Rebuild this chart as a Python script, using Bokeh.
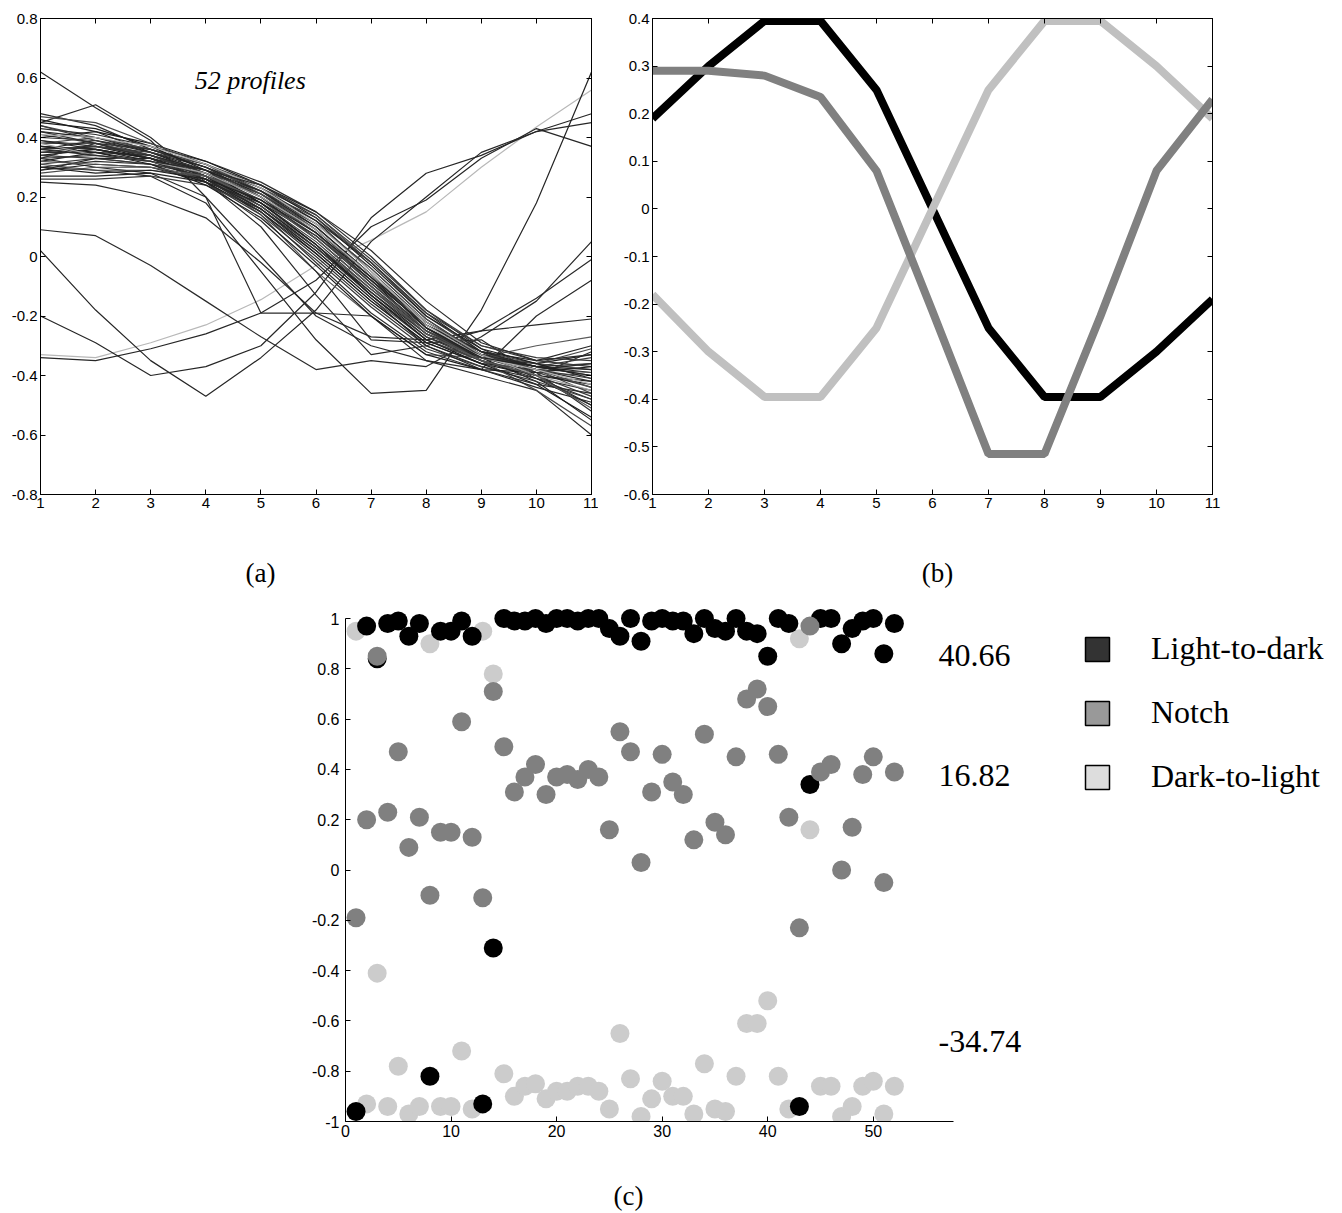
from bokeh.plotting import figure
from bokeh.models import (Range1d, FixedTicker, LinearAxis, CustomJSTickFormatter,
                          Label, Legend, LegendItem, ColumnDataSource)
from bokeh.layouts import column, row
from bokeh.embed import file_html
from bokeh.resources import INLINE

# ---------------- data ----------------
positions = list(range(1, 12))

# panel (a): 52 normalised grey-level profiles
profiles = [
    [-0.33, -0.34, -0.29, -0.23, -0.145, -0.03, 0.055, 0.15, 0.30, 0.435, 0.56],
    [-0.20, -0.29, -0.40, -0.37, -0.30, -0.12, 0.13, 0.28, 0.34, 0.42, 0.48],
    [0.02, -0.18, -0.35, -0.47, -0.34, -0.18, 0.05, 0.20, 0.35, 0.42, 0.45],
    [-0.34, -0.35, -0.31, -0.26, -0.19, -0.08, 0.10, 0.19, 0.33, 0.43, 0.37],
    [0.30, 0.29, 0.27, 0.18, -0.05, -0.28, -0.46, -0.45, -0.18, 0.18, 0.62],
    [0.36, 0.37, 0.34, 0.27, 0.14, -0.05, -0.20, -0.33, -0.34, -0.30, -0.27],
    [0.09, 0.07, -0.03, -0.15, -0.27, -0.38, -0.35, -0.37, -0.27, -0.15, 0.05],
    [0.25, 0.24, 0.20, 0.13, -0.02, -0.19, -0.27, -0.28, -0.25, -0.23, -0.21],
    [0.62, 0.50, 0.39, 0.20, 0.00, -0.20, -0.30, -0.35, -0.40, -0.45, -0.60],
    [0.45, 0.51, 0.40, 0.25, 0.10, -0.13, -0.33, -0.30, -0.25, -0.14, -0.01],
    [0.33, 0.30, 0.28, 0.20, -0.19, -0.19, -0.20, -0.35, -0.38, -0.20, -0.08],
    [0.37, 0.36, 0.33, 0.25, 0.12, -0.05, -0.28, -0.29, -0.28, -0.40, -0.32],
    [0.48, 0.44, 0.36, 0.30, 0.22, 0.12, -0.05, -0.22, -0.33, -0.40, -0.50],
    [0.46, 0.42, 0.35, 0.28, 0.20, 0.08, -0.08, -0.25, -0.34, -0.42, -0.55],
    [0.44, 0.40, 0.36, 0.31, 0.23, 0.14, -0.02, -0.20, -0.32, -0.38, -0.46],
    [0.42, 0.40, 0.35, 0.29, 0.21, 0.10, -0.06, -0.24, -0.35, -0.41, -0.48],
    [0.41, 0.38, 0.34, 0.28, 0.19, 0.06, -0.10, -0.26, -0.34, -0.39, -0.44],
    [0.40, 0.39, 0.36, 0.30, 0.22, 0.11, -0.04, -0.21, -0.33, -0.37, -0.40],
    [0.39, 0.37, 0.33, 0.27, 0.17, 0.03, -0.13, -0.28, -0.35, -0.40, -0.42],
    [0.38, 0.38, 0.34, 0.29, 0.20, 0.08, -0.08, -0.23, -0.32, -0.36, -0.38],
    [0.37, 0.36, 0.33, 0.27, 0.16, 0.01, -0.15, -0.29, -0.36, -0.38, -0.36],
    [0.36, 0.37, 0.34, 0.28, 0.18, 0.05, -0.11, -0.26, -0.34, -0.37, -0.34],
    [0.35, 0.35, 0.32, 0.26, 0.15, 0.00, -0.16, -0.30, -0.37, -0.41, -0.45],
    [0.34, 0.36, 0.33, 0.27, 0.17, 0.03, -0.12, -0.27, -0.34, -0.36, -0.33],
    [0.33, 0.34, 0.32, 0.26, 0.16, 0.02, -0.14, -0.28, -0.35, -0.39, -0.40],
    [0.32, 0.35, 0.34, 0.29, 0.21, 0.09, -0.07, -0.22, -0.32, -0.35, -0.30],
    [0.31, 0.33, 0.31, 0.25, 0.14, -0.01, -0.17, -0.31, -0.37, -0.42, -0.48],
    [0.30, 0.32, 0.31, 0.27, 0.18, 0.04, -0.12, -0.26, -0.33, -0.37, -0.36],
    [0.29, 0.31, 0.30, 0.25, 0.15, 0.01, -0.15, -0.29, -0.36, -0.40, -0.43],
    [0.28, 0.30, 0.30, 0.26, 0.17, 0.04, -0.11, -0.25, -0.33, -0.36, -0.31],
    [0.27, 0.27, 0.28, 0.25, 0.18, 0.07, -0.08, -0.23, -0.32, -0.37, -0.39],
    [0.26, 0.26, 0.27, 0.24, 0.16, 0.03, -0.13, -0.27, -0.35, -0.40, -0.47],
    [0.43, 0.41, 0.37, 0.32, 0.25, 0.15, 0.00, -0.18, -0.31, -0.39, -0.52],
    [0.40, 0.42, 0.38, 0.32, 0.24, 0.13, -0.03, -0.20, -0.31, -0.36, -0.41],
    [0.38, 0.40, 0.36, 0.31, 0.22, 0.09, -0.07, -0.24, -0.34, -0.38, -0.39],
    [0.36, 0.39, 0.35, 0.30, 0.23, 0.12, -0.02, -0.19, -0.32, -0.41, -0.50],
    [0.35, 0.37, 0.35, 0.31, 0.24, 0.14, -0.01, -0.18, -0.30, -0.35, -0.37],
    [0.33, 0.38, 0.36, 0.30, 0.20, 0.06, -0.10, -0.25, -0.34, -0.38, -0.42],
    [0.45, 0.43, 0.37, 0.29, 0.18, 0.04, -0.13, -0.28, -0.36, -0.43, -0.54],
    [0.47, 0.45, 0.38, 0.31, 0.21, 0.08, -0.09, -0.25, -0.35, -0.45, -0.57],
    [0.39, 0.36, 0.32, 0.26, 0.16, 0.02, -0.14, -0.30, -0.38, -0.44, -0.49],
    [0.34, 0.33, 0.31, 0.28, 0.22, 0.13, -0.02, -0.19, -0.30, -0.34, -0.35],
    [0.42, 0.38, 0.33, 0.26, 0.15, -0.02, -0.19, -0.32, -0.38, -0.43, -0.46],
    [0.37, 0.35, 0.31, 0.24, 0.13, -0.03, -0.20, -0.33, -0.38, -0.39, -0.37],
    [0.31, 0.29, 0.29, 0.27, 0.21, 0.11, -0.04, -0.21, -0.33, -0.38, -0.44],
    [0.29, 0.33, 0.33, 0.29, 0.22, 0.10, -0.06, -0.23, -0.33, -0.37, -0.38],
    [0.44, 0.39, 0.34, 0.27, 0.19, 0.07, -0.09, -0.24, -0.33, -0.38, -0.41],
    [0.38, 0.34, 0.32, 0.28, 0.20, 0.09, -0.06, -0.22, -0.33, -0.40, -0.45],
    [0.41, 0.40, 0.37, 0.31, 0.23, 0.11, -0.05, -0.23, -0.34, -0.38, -0.43],
    [0.36, 0.34, 0.32, 0.29, 0.24, 0.15, 0.02, -0.15, -0.29, -0.35, -0.33],
    [0.32, 0.31, 0.30, 0.27, 0.19, 0.06, -0.10, -0.26, -0.35, -0.40, -0.51],
    [0.30, 0.28, 0.29, 0.26, 0.19, 0.08, -0.07, -0.24, -0.34, -0.37, -0.40],
]
profile_shade = (["#b8b8b8"] + ["#262626"] * 4 + ["#5a5a5a"] + ["#2a2a2a"] * 6
                 + ["#2e2e2e", "#1e1e1e", "#4a4a4a", "#262626", "#3a3a3a"] * 7
                 + ["#a0a0a0", "#b0b0b0", "#2a2a2a", "#555555", "#222222"])

# panel (b): the three templates
template_light_to_dark = [0.19, 0.30, 0.395, 0.395, 0.25, 0.0, -0.25, -0.395, -0.395, -0.30, -0.19]
template_notch = [0.29, 0.29, 0.28, 0.235, 0.08, -0.215, -0.515, -0.515, -0.225, 0.08, 0.23]
template_dark_to_light = [-0.18, -0.30, -0.395, -0.395, -0.25, 0.0, 0.25, 0.395, 0.395, 0.30, 0.19]

# panel (c): correlation of every profile with each template
profile_index = list(range(1, 53))
corr_light_to_dark = [
    -0.96, 0.97, 0.84, 0.98, 0.99, 0.93, 0.98, -0.82, 0.95, 0.95,
    0.99, 0.93, -0.93, -0.31, 1.00, 0.99, 0.99, 1.00, 0.98, 1.00,
    1.00, 0.99, 1.00, 1.00, 0.96, 0.93, 1.00, 0.91, 0.99, 1.00,
    0.99, 0.99, 0.94, 1.00, 0.96, 0.95, 1.00, 0.95, 0.94, 0.85,
    1.00, 0.98, -0.94, 0.34, 1.00, 1.00, 0.90, 0.96, 0.99, 1.00,
    0.86, 0.98]
corr_notch = [
    -0.19, 0.20, 0.85, 0.23, 0.47, 0.09, 0.21, -0.10, 0.15, 0.15,
    0.59, 0.13, -0.11, 0.71, 0.49, 0.31, 0.37, 0.42, 0.30, 0.37,
    0.38, 0.36, 0.40, 0.37, 0.16, 0.55, 0.47, 0.03, 0.31, 0.46,
    0.35, 0.30, 0.12, 0.54, 0.19, 0.14, 0.45, 0.68, 0.72, 0.65,
    0.46, 0.21, -0.23, 0.97, 0.39, 0.42, 0.00, 0.17, 0.38, 0.45,
    -0.05, 0.39]
corr_dark_to_light = [
    0.95, -0.93, -0.41, -0.94, -0.78, -0.97, -0.94, 0.90, -0.94, -0.94,
    -0.72, -0.95, 0.95, 0.78, -0.81, -0.90, -0.86, -0.85, -0.91, -0.88,
    -0.88, -0.86, -0.86, -0.88, -0.95, -0.65, -0.83, -0.98, -0.91, -0.84,
    -0.90, -0.90, -0.97, -0.77, -0.95, -0.96, -0.82, -0.61, -0.61, -0.52,
    -0.82, -0.95, 0.92, 0.16, -0.86, -0.86, -0.98, -0.94, -0.86, -0.84,
    -0.97, -0.86]
legend_labels = ["Light-to-dark", "Notch", "Dark-to-light"]
component_values = [40.66, 16.82, -34.74]
panel_captions = ["(a)", "(b)", "(c)"]

# ---------------- styling helpers ----------------
TICK_FONT = "Liberation Sans"
SERIF = "Liberation Serif"
fmt_code = "return tick.toString();"
W = 1342


def style_axis(ax, ticks, show_labels=True, size="15px", standoff=3):
    ax.ticker = FixedTicker(ticks=ticks)
    ax.formatter = CustomJSTickFormatter(code=fmt_code)
    ax.major_tick_in = 5
    ax.major_tick_out = 0
    ax.minor_tick_line_color = None
    ax.axis_line_color = "black"
    ax.major_tick_line_color = "black"
    ax.major_label_text_font = TICK_FONT
    if show_labels:
        ax.major_label_text_color = "black"
        ax.major_label_standoff = standoff
        ax.major_label_text_font_size = size
    else:
        ax.major_label_text_color = None
        ax.major_label_standoff = 0
        ax.major_label_text_font_size = "1px"


def boxed(p, xticks, yticks):
    style_axis(p.xaxis[0], xticks)
    style_axis(p.yaxis[0], yticks)
    top = LinearAxis()
    right = LinearAxis()
    style_axis(top, xticks, False)
    style_axis(right, yticks, False)
    p.add_layout(top, "above")
    p.add_layout(right, "right")
    p.grid.visible = False
    p.outline_line_color = "black"
    p.outline_line_alpha = 1.0


def caption_strip(height, entries):
    s = figure(width=W, height=height, x_range=Range1d(0, 1), y_range=Range1d(0, 1),
               output_backend="svg", toolbar_location=None,
               x_axis_location=None, y_axis_location=None,
               min_border_left=0, min_border_right=0, min_border_top=0, min_border_bottom=0)
    s.grid.visible = False
    s.outline_line_color = None
    for txt, sx, sy in entries:
        s.add_layout(Label(x=sx, y=sy, x_units="screen", y_units="screen", text=txt,
                           text_align="center", text_baseline="middle", text_font=SERIF,
                           text_font_size="27px", text_color="black"))
    return s


xt = list(range(1, 12))

# ---------------- panel (a) ----------------
pa = figure(width=598, height=520, x_range=Range1d(1, 11), y_range=Range1d(-0.8, 0.8),
            output_backend="svg", toolbar_location=None,
            min_border_left=40, min_border_right=7, min_border_top=18, min_border_bottom=26)
boxed(pa, xt, [-0.8, -0.6, -0.4, -0.2, 0, 0.2, 0.4, 0.6, 0.8])
src_a = ColumnDataSource(dict(xs=[positions] * len(profiles), ys=profiles, color=profile_shade))
pa.multi_line(xs="xs", ys="ys", line_color="color", line_width=1.2, source=src_a)
pa.add_layout(Label(x=3.8, y=0.59, text="52 profiles", text_font=SERIF,
                    text_font_style="italic", text_font_size="26px", text_baseline="middle",
                    text_color="black"))

# ---------------- panel (b) ----------------
pb = figure(width=W - 598, height=520, x_range=Range1d(1, 11), y_range=Range1d(-0.6, 0.4),
            output_backend="svg", toolbar_location=None,
            min_border_left=54, min_border_right=W - 598 - 54 - 560,
            min_border_top=14, min_border_bottom=25)
boxed(pb, xt, [-0.6, -0.5, -0.4, -0.3, -0.2, -0.1, 0, 0.1, 0.2, 0.3, 0.4])
pb.line(positions, template_light_to_dark, line_color="#000000", line_width=8)
pb.line(positions, template_dark_to_light, line_color="#c0c0c0", line_width=8)
pb.line(positions, template_notch, line_color="#808080", line_width=8)

cap_ab = caption_strip(80, [(panel_captions[0], 260, 28), (panel_captions[1], 937, 28)])

# ---------------- panel (c) ----------------
axis_x_end = 57.6
px_per_unit = 608.0 / axis_x_end
frame_w_c = W - 345
pc = figure(width=W, height=550, x_range=Range1d(0, frame_w_c / px_per_unit),
            y_range=Range1d(-1, 1.04),
            output_backend="svg", toolbar_location=None,
            min_border_left=345, min_border_right=0, min_border_top=8, min_border_bottom=29)
pc.grid.visible = False
pc.outline_line_color = None
style_axis(pc.xaxis[0], [0, 10, 20, 30, 40, 50], size="16px", standoff=3)
style_axis(pc.yaxis[0], [-1, -0.8, -0.6, -0.4, -0.2, 0, 0.2, 0.4, 0.6, 0.8, 1],
           size="16px", standoff=6)
pc.xaxis[0].bounds = (0, axis_x_end)
pc.yaxis[0].bounds = (-1, 1)

pc.scatter(profile_index, corr_dark_to_light, size=19, fill_color="#cccccc", line_color=None)
pc.scatter(profile_index, corr_light_to_dark, size=19, fill_color="#000000", line_color=None)
pc.scatter(profile_index, corr_notch, size=19, fill_color="#808080", line_color=None)

legend_fill = ["#333333", "#999999", "#dddddd"]
nan = float("nan")
items = []
for lab, col in zip(legend_labels, legend_fill):
    r = pc.quad(left=[nan], right=[nan], top=[nan], bottom=[nan], fill_color=col,
                line_color="black", line_width=1.5)
    items.append(LegendItem(label=lab, renderers=[r]))
leg = Legend(items=items, location=(737, 326), glyph_width=30, glyph_height=30,
             label_standoff=39, spacing=27, padding=0, margin=0,
             border_line_color=None, background_fill_alpha=0,
             label_text_font=SERIF, label_text_font_size="32px", label_height=30,
             label_text_color="black")
pc.add_layout(leg)

value_y = [0.852, 0.374, -0.68]
for v, yy in zip(component_values, value_y):
    pc.add_layout(Label(x=56.18, y=yy, text=f"{v:.2f}", text_font=SERIF,
                        text_font_size="32px", text_baseline="middle", text_color="black"))

cap_c = caption_strip(63, [(panel_captions[2], 628, 18)])

layout = column(row(pa, pb), row(cap_ab), row(pc), row(cap_c))
open("out.html", "w").write(file_html(layout, INLINE))
